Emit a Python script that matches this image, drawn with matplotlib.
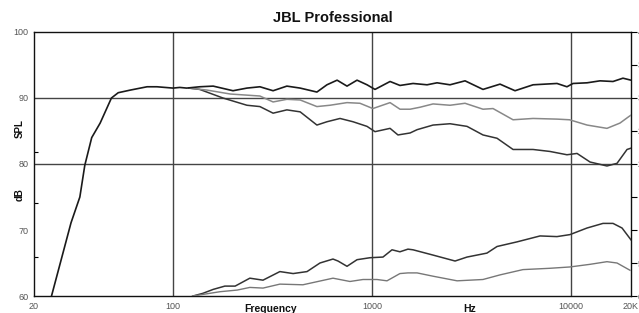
import matplotlib
matplotlib.use("Agg")
import matplotlib.pyplot as plt
from matplotlib.ticker import NullFormatter

plt.rcParams['font.family'] = ['Liberation Sans', 'DejaVu Sans']

# on-axis response (dB SPL)
f_on = [24, 30.7, 34, 36, 39, 43, 49, 53, 61, 74, 83, 100, 108, 117, 136, 159,
        200, 235, 273, 318, 373, 435, 528, 593, 667, 748, 840, 943, 1034, 1231,
        1381, 1606, 1889, 2120, 2463, 2931, 3608, 4394, 5227, 6440, 8496, 9530,
        10220, 12030, 13970, 16240, 18220, 20000]
spl_on = [59, 71.1, 75, 79.8, 84, 86.2, 90, 90.8, 91.2, 91.7, 91.7, 91.5, 91.6,
          91.5, 91.7, 91.8, 91.1, 91.5, 91.7, 91.1, 91.8, 91.5, 90.9, 92.0, 92.7,
          91.8, 92.7, 92.0, 91.3, 92.5, 91.9, 92.2, 92.0, 92.3, 92.0, 92.6, 91.3,
          92.1, 91.1, 92.0, 92.2, 91.7, 92.2, 92.3, 92.6, 92.5, 93.0, 92.7]

# off-axis 1 (gray)
f_off1 = [120, 148, 194, 273, 318, 373, 435, 528, 614, 748, 869, 1009, 1231,
          1381, 1552, 1741, 2024, 2463, 2931, 3608, 4052, 5108, 6440, 8496, 9820,
          12030, 15140, 17600, 19540, 20000]
spl_off1 = [91.5, 91.2, 90.6, 90.3, 89.4, 89.8, 89.7, 88.7, 88.9, 89.3, 89.2,
            88.4, 89.3, 88.3, 88.3, 88.6, 89.1, 88.9, 89.2, 88.3, 88.4, 86.7,
            86.9, 86.8, 86.7, 85.9, 85.4, 86.2, 87.2, 87.4]

# off-axis 2 (dark)
f_off2 = [120, 136, 178, 235, 273, 318, 373, 435, 528, 593, 690, 802, 943, 1034,
          1231, 1349, 1552, 1683, 2024, 2463, 2999, 3608, 4244, 5108, 6440, 7830,
          9530, 10710, 12450, 15140, 17010, 19100, 20000]
spl_off2 = [91.5, 91.3, 90.0, 88.9, 88.7, 87.7, 88.2, 87.9, 85.9, 86.4, 86.9,
            86.4, 85.7, 84.9, 85.4, 84.4, 84.7, 85.2, 85.9, 86.1, 85.7, 84.4,
            83.9, 82.2, 82.2, 81.9, 81.4, 81.6, 80.3, 79.7, 80.1, 82.2, 82.4]

# directivity curves (right scale)
f_di1 = [126, 141, 159, 182, 205, 243, 283, 344, 401, 471, 547, 636, 674, 748,
         840, 976, 1134, 1259, 1380, 1514, 1606, 2024, 2612, 2999, 3776, 4244,
         5346, 6982, 8492, 9862, 12020, 14460, 16240, 18030, 20000]
di1 = [0, 0.4, 1.0, 1.5, 1.5, 2.7, 2.4, 3.7, 3.4, 3.7, 5.0, 5.6, 5.3, 4.5, 5.5,
       5.8, 5.9, 7.0, 6.7, 7.1, 7.0, 6.2, 5.3, 5.9, 6.5, 7.5, 8.2, 9.1, 9.0, 9.3,
       10.3, 11.0, 11.0, 10.3, 8.5]

f_di2 = [125, 132, 172, 210, 243, 283, 344, 449, 636, 774, 900, 1059, 1188, 1380,
         1514, 1683, 2024, 2673, 3606, 4395, 5728, 7834, 9862, 12450, 15140,
         17010, 19770]
di2 = [0, 0.1, 0.65, 0.9, 1.3, 1.2, 1.8, 1.7, 2.7, 2.2, 2.5, 2.5, 2.3, 3.4, 3.5,
       3.5, 3.0, 2.3, 2.5, 3.2, 4.0, 4.2, 4.4, 4.8, 5.2, 5.0, 3.9]

xticks = [20, 100, 1000, 10000, 20000]
xlabels = ['20', '100', '1000', '10000', '20K']
yticks = [60, 70, 80, 90, 100]

fig = plt.figure(figsize=(6.39, 3.13), dpi=100)
ax = fig.add_axes([0.0532, 0.0543, 0.9343, 0.8435])

ax.set_xscale('log')
ax.set_xlim(20, 20000)
ax.set_ylim(60, 100)

for x in [100, 1000, 10000]:
    ax.axvline(x, color='#444444', lw=1.0, zorder=1)
for y in [80, 90]:
    ax.axhline(y, color='#444444', lw=1.0, zorder=1)

ax.plot(f_off2, spl_off2, color='#333333', lw=1.1, zorder=3)
ax.plot(f_off1, spl_off1, color='#888888', lw=1.1, zorder=3)
ax.plot(f_on, spl_on, color='#1a1a1a', lw=1.2, zorder=4)

ax.set_xticks(xticks)
ax.set_xticklabels(xlabels)
ax.xaxis.set_minor_formatter(NullFormatter())
ax.tick_params(axis='x', which='both', length=0, pad=4, labelsize=6.5,
               labelcolor='#555555')
ax.set_yticks(yticks)
ax.set_yticks([65.9, 74.1, 81.8], minor=True)
ax.tick_params(axis='y', which='major', length=0, pad=4, labelsize=6.5,
               labelcolor='#555555')
ax.tick_params(axis='y', which='minor', direction='in', length=3, width=0.8)

for s in ax.spines.values():
    s.set_linewidth(1.0)
    s.set_color('#111111')

ax2 = ax.twinx()
ax2.set_ylim(0, 40)
ax2.plot(f_di1, di1, color='#333333', lw=1.1, zorder=3)
ax2.plot(f_di2, di2, color='#777777', lw=1.0, zorder=3)
ax2.set_yticks(range(0, 41, 5))
ax2.tick_params(axis='y', direction='out', length=4, width=0.8, pad=1,
                labelsize=6.5, labelcolor='#555555')
for s in ax2.spines.values():
    s.set_visible(False)

fig.text(0.521, 0.943, 'JBL Professional', ha='center', va='center',
         fontsize=10.5, fontweight='bold', color='#111111')
fig.text(0.031, 0.59, 'SPL', rotation=90, ha='center', va='center',
         fontsize=7, fontweight='bold', color='#111111')
fig.text(0.031, 0.378, 'dB', rotation=90, ha='center', va='center',
         fontsize=7, fontweight='bold', color='#111111')
fig.text(0.423, 0.028, 'Frequency', ha='center', va='top',
         fontsize=7.5, fontweight='bold', color='#111111')
fig.text(0.735, 0.028, 'Hz', ha='center', va='top',
         fontsize=7.5, fontweight='bold', color='#111111')

fig.savefig('out.png', dpi=100)
